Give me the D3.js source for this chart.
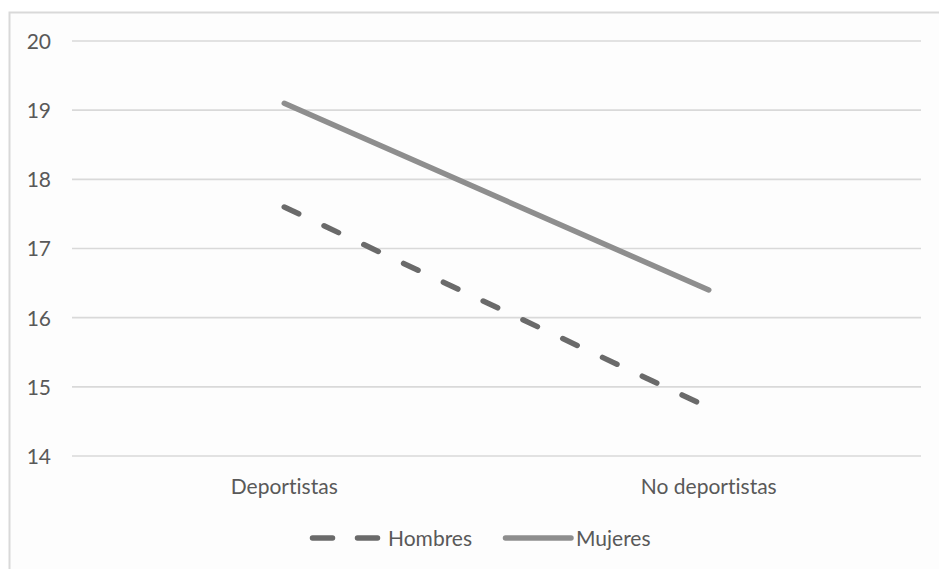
<!DOCTYPE html>
<html>
<head>
<meta charset="utf-8">
<script src="https://cdn.jsdelivr.net/npm/d3@7"></script>
<style>
  html, body { margin: 0; padding: 0; background: #ffffff; }
  svg { display: block; }
  text { font-family: Lato, "Open Sans", sans-serif; fill: #595959; font-variant-ligatures: none; }
</style>
</head>
<body>
<svg id="chart" width="939" height="569"></svg>
<script>
// Chart data
const categories = ["Deportistas", "No deportistas"];
const hombres = [17.6, 14.7];
const mujeres = [19.1, 16.4];
const yTicks = [14, 15, 16, 17, 18, 19, 20];
const seriesNames = ["Hombres", "Mujeres"];

const W = 939, H = 569;
const margin = { left: 72, right: 18, top: 41, bottom: 113 };
const svg = d3.select("#chart");

// Chart area background and frame
svg.append("rect").attr("x", 9).attr("y", 12).attr("width", W - 9).attr("height", H - 12)
  .attr("fill", "#fdfdfd");
svg.append("path").attr("d", `M9.5,${H} V12.5 H${W}`)
  .attr("fill", "none").attr("stroke", "#d9d9d9").attr("stroke-width", 2);

const x = d3.scaleBand().domain(categories).range([margin.left, W - margin.right]).padding(0);
const y = d3.scaleLinear().domain([14, 20]).range([H - margin.bottom, margin.top]);

// Horizontal gridlines
svg.append("g").selectAll("line").data(yTicks).join("line")
  .attr("x1", margin.left).attr("x2", W - margin.right)
  .attr("y1", d => y(d)).attr("y2", d => y(d))
  .attr("stroke", "#d9d9d9").attr("stroke-width", 1.6);

// Y axis labels
const yAxis = d3.axisLeft(y).tickValues(yTicks).tickSize(0).tickPadding(0).tickFormat(d3.format("d"));
const gy = svg.append("g").attr("transform", `translate(${margin.left - 21},0)`).call(yAxis);
gy.select(".domain").remove();
gy.selectAll("text").attr("font-size", 21).attr("fill", "#595959")
  .style("font-family", "Lato, 'Open Sans', sans-serif").attr("dy", "0.35em");

// X axis labels
const xAxis = d3.axisBottom(x).tickSize(0).tickPadding(0);
const gx = svg.append("g").attr("transform", `translate(0,${H - margin.bottom + 38})`).call(xAxis);
gx.select(".domain").remove();
gx.selectAll("text").attr("font-size", 21).attr("fill", "#595959")
  .style("font-family", "Lato, 'Open Sans', sans-serif").attr("dy", 0);

const line = d3.line().x((d, i) => x(categories[i]) + x.bandwidth() / 2).y(d => y(d));

// Series lines
svg.append("path").datum(mujeres).attr("d", line)
  .attr("fill", "none").attr("stroke", "#8e8e8e").attr("stroke-width", 5.5)
  .attr("stroke-linecap", "round");
svg.append("path").datum(hombres).attr("d", line)
  .attr("fill", "none").attr("stroke", "#6a6a6a").attr("stroke-width", 5.5)
  .attr("stroke-linecap", "round").attr("stroke-dasharray", "16,28");

// Legend
const legY = 538;
const leg = svg.append("g");
leg.append("line").attr("x1", 312.5).attr("x2", 377.5).attr("y1", legY).attr("y2", legY)
  .attr("stroke", "#6a6a6a").attr("stroke-width", 5.5).attr("stroke-linecap", "round")
  .attr("stroke-dasharray", "20,25");
leg.append("text").attr("x", 388).attr("y", legY + 8).attr("font-size", 21).text(seriesNames[0]);
leg.append("line").attr("x1", 505.5).attr("x2", 571).attr("y1", legY).attr("y2", legY)
  .attr("stroke", "#8e8e8e").attr("stroke-width", 5.5).attr("stroke-linecap", "round");
leg.append("text").attr("x", 576).attr("y", legY + 8).attr("font-size", 21).text(seriesNames[1]);
</script>
</body>
</html>
